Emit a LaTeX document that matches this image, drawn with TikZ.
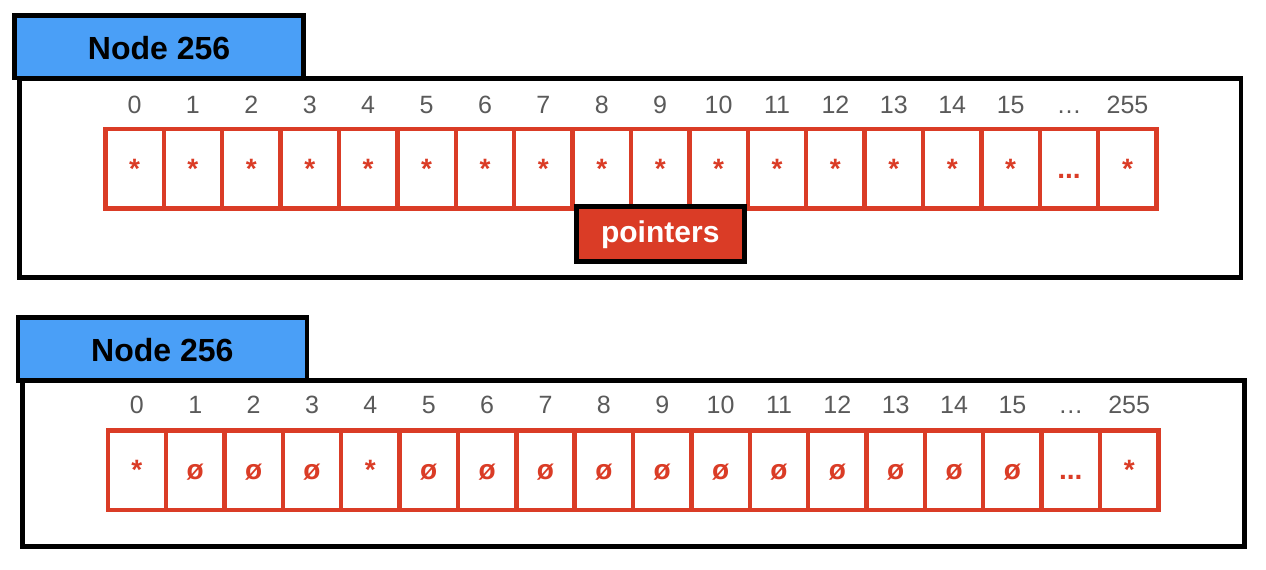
\documentclass[tikz,border=0pt]{standalone}
\usepackage{fontspec}
\setmainfont{Liberation Sans}
\definecolor{hdrblue}{RGB}{74,159,247}
\definecolor{cellred}{RGB}{218,60,38}
\definecolor{idxgray}{RGB}{90,90,90}
\newcommand\redDots{...}
\newcommand\labDots{…}
\begin{document}
\begin{tikzpicture}[x=1pt,y=-1pt,
  frame/.style={draw=black,line width=4.6pt,inner sep=0pt},
  hdr/.style={frame,fill=hdrblue,minimum width=289pt,minimum height=62.6pt,
    font=\fontsize{32}{38}\selectfont\bfseries,text height=25pt,text depth=0pt},
  cell/.style={draw=cellred,line width=4.4pt,minimum width=58.4pt,minimum height=79.4pt,
    inner sep=0pt,text=cellred,font=\fontsize{28}{34}\selectfont\bfseries,
    text height=19pt,text depth=0pt},
  idx/.style={text=idxgray,font=\fontsize{25}{30}\selectfont,anchor=base,inner sep=0pt},
  ptr/.style={draw=black,line width=5pt,fill=cellred,text=white,inner sep=0pt,
    minimum width=167.5pt,minimum height=55pt,
    font=\fontsize{30}{36}\selectfont\bfseries,text height=16.6pt,text depth=0pt}
]
\useasboundingbox (0,0) rectangle (1266,570);

% ---------- top diagram ----------
\node[frame,minimum width=1221.7pt,minimum height=199.2pt] (topbox) at (630.15,177.9) {};
\node[hdr] (toptitle) at (159.05,46.8) {Node 256};
\foreach \i in {0,...,17}{
  \pgfmathsetmacro\cx{105.3+58.41*\i+29.2}
  \node[cell] (t\i) at (\cx,168.75) {\ifnum\i=16 \redDots\else *\fi};
}
\foreach \lab [count=\i from 0] in {0,1,2,3,4,5,6,7,8,9,10,11,12,13,14,15,\labDots,255}{
  \pgfmathsetmacro\cx{105.3+58.41*\i+29.2}
  \node[idx] (tl\i) at (\cx,113) {\lab};
}
\node[ptr] (ptrs) at (660.25,234) {pointers};

% ---------- bottom diagram ----------
\node[frame,minimum width=1221.6pt,minimum height=165.6pt] (botbox) at (633.5,463.5) {};
\node[hdr] (bottitle) at (162.3,349) {Node 256};
\foreach \c [count=\i from 0] in {*,ø,ø,ø,*,ø,ø,ø,ø,ø,ø,ø,ø,ø,ø,ø,\redDots,*}{
  \pgfmathsetmacro\cx{107.7+58.37*\i+29.2}
  \node[cell] (b\i) at (\cx,470.3) {\c};
}
\foreach \lab [count=\i from 0] in {0,1,2,3,4,5,6,7,8,9,10,11,12,13,14,15,\labDots,255}{
  \pgfmathsetmacro\cx{107.7+58.37*\i+29.2}
  \node[idx] (bl\i) at (\cx,413.3) {\lab};
}
\end{tikzpicture}
\end{document}
